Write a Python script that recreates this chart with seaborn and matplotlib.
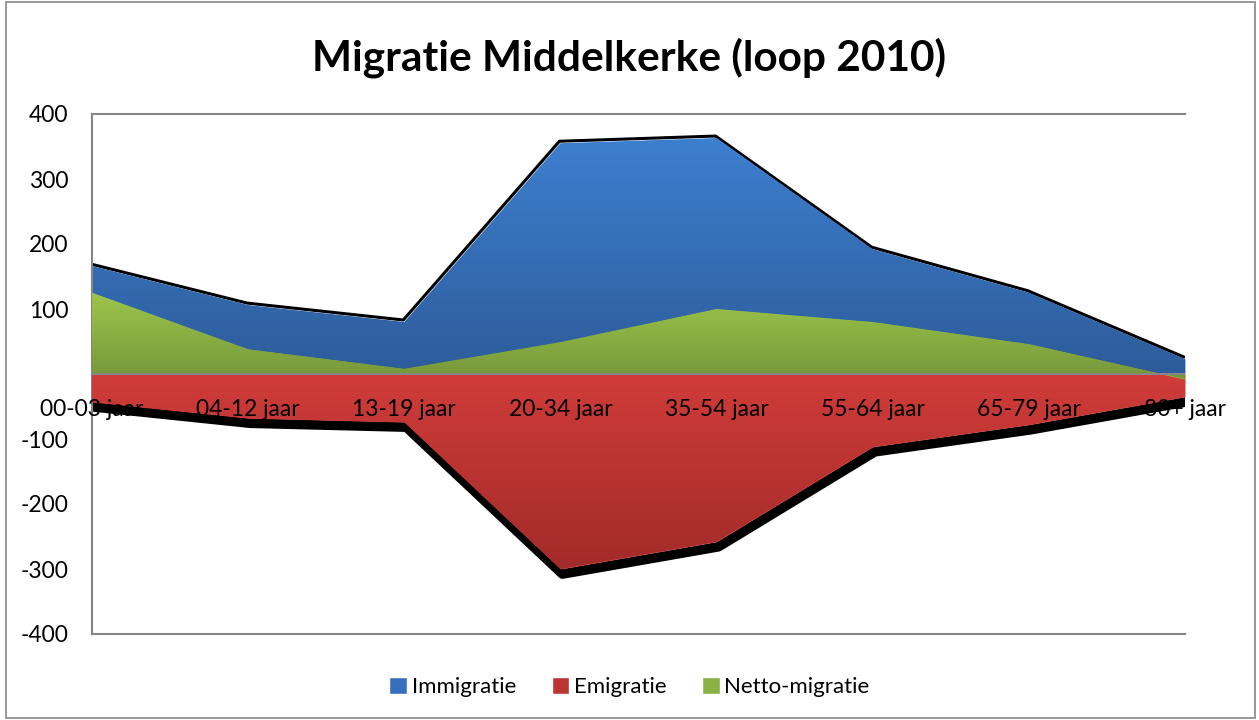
import numpy as np
import pandas as pd
import seaborn as sns
import matplotlib.pyplot as plt
import matplotlib.transforms as mtransforms
from matplotlib.patches import Patch, Rectangle

# Data
categories = ['00-03 jaar', '04-12 jaar', '13-19 jaar', '20-34 jaar',
              '35-54 jaar', '55-64 jaar', '65-79 jaar', '80+ jaar']
immigratie = [166, 106, 80, 355, 363, 192, 125, 23]
emigratie = [-43, -68, -74, -300, -258, -112, -78, -35]
netto = [125, 38, 8, 49, 100, 80, 46, -8]

yticks = [-400, -300, -200, -100, 100, 200, 300, 400]

sns.set_style("white")
plt.rcParams['font.family'] = ['Lato', 'DejaVu Sans']
plt.rcParams['text.color'] = 'black'
plt.rcParams['ytick.color'] = 'black'

df = pd.DataFrame({'cat': categories, 'Immigratie': immigratie,
                   'Emigratie': emigratie, 'Netto-migratie': netto})
df['x'] = np.arange(len(df))

fig = plt.figure(figsize=(12.59, 7.2), dpi=100)
ax = fig.add_axes([92 / 1259, 86 / 720, 1093 / 1259, 520 / 720])


def shifted(dx, dy):
    # offset in pixels
    return ax.transData + mtransforms.ScaledTranslation(dx / 100, dy / 100, fig.dpi_scale_trans)


def gradient_fill(col, top, bottom, z):
    poly = ax.fill_between(df['x'], 0, df[col], color=top, lw=0, zorder=z)
    ymin, ymax = min(0, df[col].min()), max(0, df[col].max())
    grad = np.linspace(0, 1, 256).reshape(-1, 1)
    cmap = sns.blend_palette([top, bottom], as_cmap=True)
    im = ax.imshow(grad, cmap=cmap, aspect='auto', extent=[0, 7, ymin, ymax],
                   origin='upper', zorder=z + 0.1, interpolation='bicubic')
    im.set_clip_path(poly.get_paths()[0], transform=ax.transData)
    return poly


# shadows
sns.lineplot(data=df, x='x', y='Immigratie', color='black', lw=2.2, ax=ax,
             transform=shifted(-1, 2), zorder=1)
sns.lineplot(data=df, x='x', y='Emigratie', color='black', lw=7, ax=ax,
             transform=shifted(2, -5), zorder=1)

gradient_fill('Immigratie', '#3d7fcf', '#2d5c9a', 2)
gradient_fill('Emigratie', '#d03c39', '#a22b29', 3)
gradient_fill('Netto-migratie', '#9dc64b', '#76973a', 4)

ax.axhline(0, color='#868686', lw=1.5, zorder=6)

ax.set_xlim(0, 7)
ax.set_ylim(-400, 400)
ax.set_yticks(yticks)
ax.set_yticklabels([str(t) for t in yticks], fontsize=16.5)
ax.tick_params(axis='y', length=0, pad=17)
ax.set_xticks([])
ax.set_xlabel('')
ax.set_ylabel('')
for s in ['top', 'bottom', 'left']:
    ax.spines[s].set_color('#868686')
    ax.spines[s].set_linewidth(1.5)
ax.spines['right'].set_visible(False)

for i, c in enumerate(categories):
    ax.text(i, -55, c, ha='center', va='center', fontsize=16.5, zorder=7)

fig.text(0.5, (720 - 58) / 720, 'Migratie Middelkerke (loop 2010)',
         ha='center', va='center', fontsize=30.5, fontweight='bold')

handles = [Patch(facecolor='#3670bd', label='Immigratie'),
           Patch(facecolor='#bc3533', label='Emigratie'),
           Patch(facecolor='#8ab143', label='Netto-migratie')]
fig.legend(handles=handles, loc='center', bbox_to_anchor=(0.5, 33 / 720), ncol=3,
           frameon=False, fontsize=16, handlelength=0.8, handleheight=0.8,
           handletextpad=0.2, columnspacing=1.6)

fig.patches.append(Rectangle((6 / 1259, 2 / 720), 1249 / 1259, 716 / 720,
                             transform=fig.transFigure, fill=False,
                             edgecolor='#868686', lw=1.2))

fig.savefig('out.png', dpi=100)
